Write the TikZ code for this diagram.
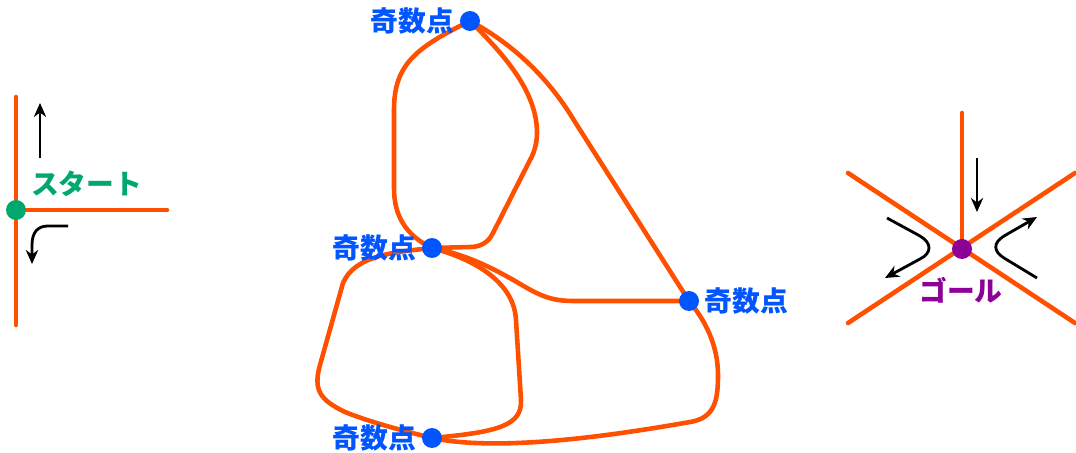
\documentclass[tikz,border=0pt]{standalone}
\usepackage{fontspec}
\newfontfamily\cjk{Noto Sans CJK JP}
\usetikzlibrary{arrows.meta,backgrounds}
\definecolor{road}{RGB}{255,80,0}
\definecolor{oddblue}{RGB}{0,85,255}
\definecolor{startgreen}{RGB}{0,168,110}
\definecolor{goalpurple}{RGB}{140,0,150}
\tikzset{
  dot/.style={circle,fill=#1,inner sep=0pt,minimum size=0.4cm},
  road/.style={draw=road,line width=2.6pt,line cap=round,line join=round},
  lab/.style={font=\cjk\bfseries\fontsize{15.8}{16}\selectfont,text=#1,inner sep=1pt},
  move/.style={draw=black,line width=1.6pt,-{Stealth[length=8pt,width=7pt]}}
}
\begin{document}
\begin{tikzpicture}[x=0.02cm,y=-0.02cm]
\useasboundingbox (0,0) rectangle (1076,453);
% odd points
\node[dot=oddblue] (T) at (470,21) {};
\node[dot=oddblue] (M) at (432,248) {};
\node[dot=oddblue] (R) at (689,301) {};
\node[dot=oddblue] (B) at (432,438) {};
\node[lab=oddblue,anchor=east] (lT) at ([xshift=-2pt]T.west) {奇数点};
\node[lab=oddblue,anchor=east] (lM) at ([xshift=-2pt]M.west) {奇数点};
\node[lab=oddblue,anchor=west] (lR) at ([xshift=2pt]R.east) {奇数点};
\node[lab=oddblue,anchor=east] (lB) at ([xshift=-2pt]B.west) {奇数点};
% start
\node[dot=startgreen] (S) at (16,210) {};
\coordinate (s1) at (16,97);
\coordinate (s2) at (16,325);
\coordinate (s3) at (167,210);
\node[lab=startgreen,anchor=west] (lS) at (29,184) {スタート};
\coordinate (a1s) at (40,158);
\coordinate (a1e) at (40,103);
\coordinate (a2s) at (68,226);
\coordinate (a2e) at (32,264);
% goal
\node[dot=goalpurple] (G) at (962,249) {};
\coordinate (g1) at (962,113);
\coordinate (g2) at (848,173);
\coordinate (g3) at (1075,323);
\coordinate (g4) at (1075,173);
\coordinate (g5) at (848,323);
\node[lab=goalpurple] (lG) at (961,290) {ゴール};
\coordinate (b1s) at (977,158);
\coordinate (b1e) at (977,212);
\coordinate (b2s) at (887,218);
\coordinate (b2e) at (885,278);
\coordinate (b3s) at (1037,278);
\coordinate (b3e) at (1037,217);
\begin{scope}[on background layer]
  % start roads
  \draw[road] (s1) -- (s2);
  \draw[road] (S.center) -- (s3);
  % goal roads
  \draw[road] (g1) -- (G.center);
  \draw[road] (g2) -- (g3);
  \draw[road] (g4) -- (g5);
  % graph
  \draw[road] (T.center) .. controls (415,48) and (394,65) .. (394,110)
     -- (394,188) .. controls (394,215) and (405,235) .. (M.center);
  \draw[road] (T.center) .. controls (510,60) and (537,95) .. (537,133)
     .. controls (537,145) and (533,155) .. (530,160) -- (493,233)
     .. controls (488,243) and (480,247) .. (470,247) -- (M.center);
  \draw[road] (T.center) .. controls (515,45) and (550,80) .. (575,122) -- (R.center);
  \draw[road] (M.center) .. controls (470,255) and (500,272) .. (527,288)
     .. controls (545,298) and (555,301) .. (575,301) -- (R.center);
  \draw[road] (M.center) .. controls (470,258) and (514,280) .. (516,320)
     -- (521,400) .. controls (522,425) and (500,432) .. (B.center);
  \draw[road] (M.center) .. controls (395,252) and (355,255) .. (343,283)
     -- (320,365) .. controls (313,390) and (320,400) .. (345,412)
     .. controls (370,422) and (400,430) .. (B.center);
  \draw[road] (B.center) .. controls (480,448) and (560,445) .. (690,422)
     .. controls (715,418) and (718,400) .. (718,375)
     .. controls (718,345) and (705,320) .. (R.center);
\end{scope}
% movement arrows
\draw[move] (a1s) -- (a1e);
\draw[move] (a2s) -- (48,226) .. controls (38,226) and (32,232) .. (32,245) -- (a2e);
\draw[move] (b1s) -- (b1e);
\draw[move] (b2s) -- (920,236) .. controls (932,243) and (932,253) .. (920,259) -- (b2e);
\draw[move] (b3s) -- (1004,258) .. controls (993,251) and (993,243) .. (1004,236) -- (b3e);
\end{tikzpicture}
\end{document}
